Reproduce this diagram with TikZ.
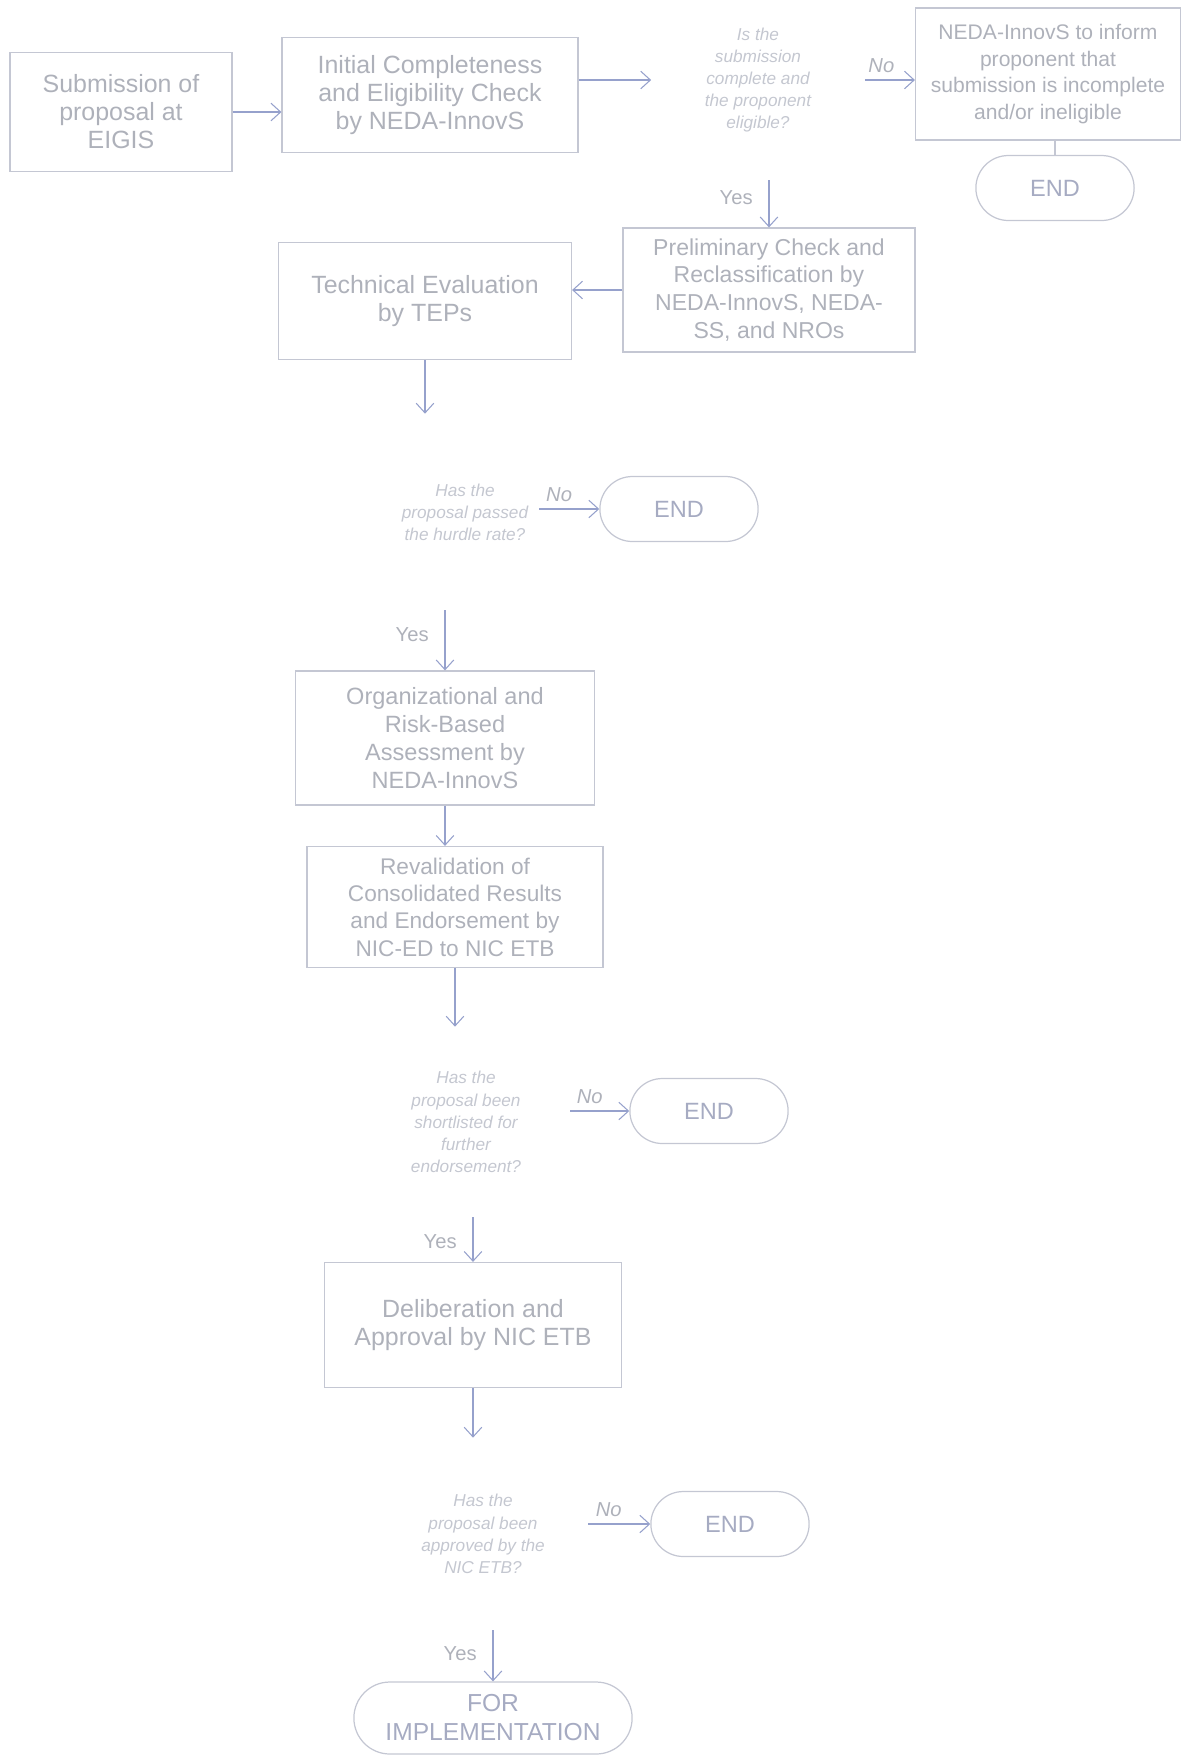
\documentclass[tikz,border=0pt]{standalone}
\usepackage{fontspec}
\setmainfont{Liberation Sans}
\usetikzlibrary{arrows.meta,shapes.misc}
\definecolor{boxline}{RGB}{196,199,211}
\definecolor{boxtext}{RGB}{174,177,186}
\definecolor{asktext}{RGB}{196,199,208}
\definecolor{termtext}{RGB}{166,171,194}
\definecolor{flowblue}{RGB}{150,161,204}

\begin{document}
\begin{tikzpicture}[x=0.02cm,y=-0.02cm,
		procbox/.style={draw=boxline,line width=0.7pt,text=boxtext,align=center,inner sep=2pt,font=\fontsize{14.2}{15.9}\selectfont},
		termbox/.style={draw=boxline,line width=0.7pt,text=termtext,rounded rectangle,align=center,minimum width=3.4cm,minimum height=1.3cm,font=\fontsize{13.4}{16}\selectfont},
		askbox/.style={text=asktext,align=center,inner sep=0pt,font=\fontsize{9.8}{12.6}\selectfont\itshape},
		flow/.style={draw=flowblue,line width=0.6pt,-{Straight Barb[length=5.5pt,width=10pt]}},
		lbl/.style={text=boxtext,inner sep=1pt,font=\fontsize{11.5}{13}\selectfont}]
		\useasboundingbox (0,0) rectangle (1184,1756);
		% first row
		\node[procbox,minimum width=4.44cm,minimum height=2.38cm] (sub) at (121,112) {Submission of\\proposal at\\EIGIS};
		\node[procbox,minimum width=5.92cm,minimum height=2.3cm] (init) at (430,95) {Initial Completeness\\and Eligibility Check\\by NEDA-InnovS};
		\node[askbox,minimum width=4.26cm,minimum height=4cm] (q1) at (758,80) {Is the\\submission\\complete and\\the proponent\\eligible?};
		\node[procbox,minimum width=5.3cm,minimum height=2.64cm,font=\fontsize{12}{15.2}\selectfont] (inform) at (1048,74) {NEDA-InnovS to inform\\proponent that\\submission is incomplete\\and/or ineligible};
		\node[termbox] (end1) at (1055,188) {END};
		\draw[flow] (sub.east) -- (sub.east -| init.west);
		\draw[flow] (init.east |- q1.west) -- (q1.west);
		\draw[flow] (q1.east) -- node[lbl,above=3pt,pos=.33] {\itshape No} (q1.east -| inform.west);
		\draw[boxline,line width=0.7pt] (end1.north |- inform.south) -- (end1.north);
		% second row
		\node[procbox,minimum width=5.84cm,minimum height=2.48cm,font=\fontsize{13.1}{15.8}\selectfont] (prelim) at (769,290) {Preliminary Check and\\Reclassification by\\NEDA-InnovS, NEDA-\\SS, and NROs};
		\node[procbox,minimum width=5.86cm,minimum height=2.34cm] (tech) at (425,301) {Technical Evaluation\\by TEPs};
		\draw[flow] (prelim.north |- q1.south) -- node[lbl,left=8pt,pos=.37] {Yes} (prelim.north);
		\draw[flow] (prelim.west) -- (prelim.west -| tech.east);
		% hurdle rate
		\node[askbox,minimum width=2.96cm,minimum height=3.92cm] (q2) at (465,512) {Has the\\proposal passed\\the hurdle rate?};
		\node[termbox] (end2) at (679,509) {END};
		\draw[flow] (tech.south) -- (tech.south |- q2.north);
		\draw[flow] (q2.east |- end2.west) -- node[lbl,above=3pt,pos=.33] {\itshape No} (end2.west);
		\node[procbox,minimum width=5.98cm,minimum height=2.68cm,font=\fontsize{13.4}{16}\selectfont] (org) at (445,738) {Organizational and\\Risk-Based\\Assessment by\\NEDA-InnovS};
		\node[procbox,minimum width=5.92cm,minimum height=2.42cm,font=\fontsize{12.9}{15.6}\selectfont] (reval) at (455,907) {Revalidation of\\Consolidated Results\\and Endorsement by\\NIC-ED to NIC ETB};
		\draw[flow] (org.north |- q2.south) -- node[lbl,left=8pt,pos=.4] {Yes} (org.north);
		\draw[flow] (org.south) -- (org.south |- reval.north);
		% shortlist
		\node[askbox,minimum width=4.16cm,minimum height=3.8cm] (q3) at (466,1122) {Has the\\proposal been\\shortlisted for\\further\\endorsement?};
		\node[termbox] (end3) at (709,1111) {END};
		\draw[flow] (reval.south) -- (reval.south |- q3.north);
		\draw[flow] (q3.east |- end3.west) -- node[lbl,above=3pt,pos=.33] {\itshape No} (end3.west);
		\node[procbox,minimum width=5.94cm,minimum height=2.5cm] (delib) at (473,1325) {Deliberation and\\Approval by NIC ETB};
		\draw[flow] (delib.north |- q3.south) -- node[lbl,left=8pt,pos=.55] {Yes} (delib.north);
		% approval
		\node[askbox,minimum width=4.2cm,minimum height=3.84cm] (q4) at (483,1534) {Has the\\proposal been\\approved by the\\NIC ETB?};
		\node[termbox] (end4) at (730,1524) {END};
		\draw[flow] (delib.south) -- (delib.south |- q4.north);
		\draw[flow] (q4.east |- end4.west) -- node[lbl,above=3pt,pos=.33] {\itshape No} (end4.west);
		\node[termbox,minimum width=5.8cm,minimum height=1.44cm,font=\fontsize{14}{16.5}\selectfont] (impl) at (493,1718) {FOR\\IMPLEMENTATION};
		\draw[flow] (impl.north |- q4.south) -- node[lbl,left=8pt,pos=.46] {Yes} (impl.north);
	\end{tikzpicture}
\end{document}
